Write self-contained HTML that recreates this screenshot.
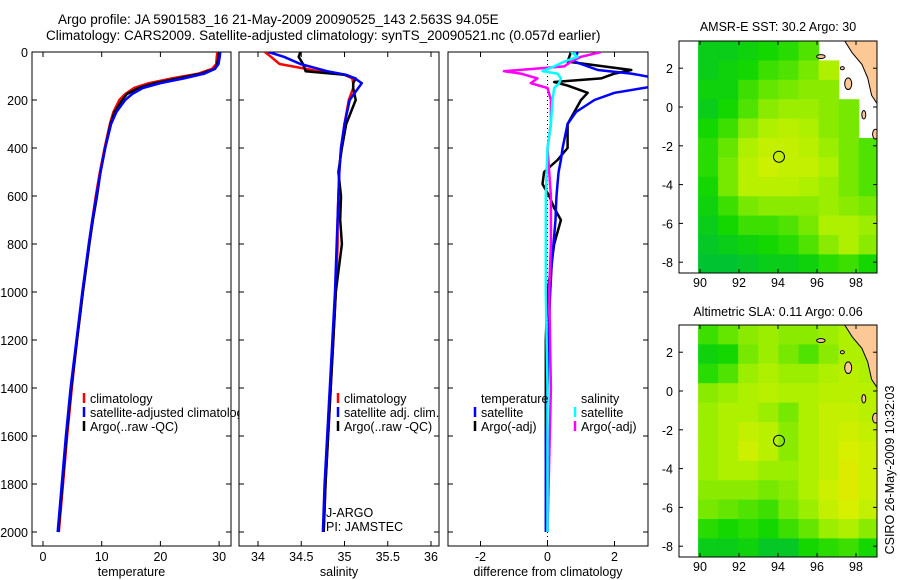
<!DOCTYPE html>
<html><head><meta charset="utf-8"><style>
html,body{margin:0;padding:0;background:#fff;width:900px;height:580px;overflow:hidden}
svg{display:block;font-family:"Liberation Sans",sans-serif;font-size:12.5px}
</style></head><body>
<svg id="fig" width="900" height="580" viewBox="0 0 900 580" xmlns="http://www.w3.org/2000/svg">
<text x="58" y="24" font-size="13.5">Argo profile: JA 5901583_16 21-May-2009 20090525_143 2.563S 94.05E</text>
<text x="46" y="40" font-size="13.5">Climatology: CARS2009. Satellite-adjusted climatology: synTS_20090521.nc (0.057d earlier)</text>
<text x="778" y="31" text-anchor="middle">AMSR-E SST: 30.2  Argo: 30</text>
<text x="778" y="316" text-anchor="middle">Altimetric SLA: 0.11  Argo: 0.06</text>
<text transform="translate(894,470) rotate(-90)" text-anchor="middle">CSIRO 26-May-2009 10:32:03</text>
<g id="plots"></g>
</svg>
<script>
// ---- data ----
const tDepth=[0,20,50,70,90,110,130,150,175,200,250,300,400,500,600,700,800,1000,1200,1400,1600,1800,2000];
const tClim=[29.7,29.6,29.5,28.8,26.5,22,18,15.5,14,13,12,11.4,10.5,9.7,9,8.4,7.8,6.8,5.8,4.9,4.1,3.4,2.7];
const tSat=[30.2,30.1,29.9,29.3,27.5,24,20,17,15.2,14,12.5,11.6,10.6,9.8,9.1,8.4,7.8,6.7,5.7,4.7,3.9,3.2,2.5];
const tArgo=[30,29.9,29.7,29.3,27,23,19,16.3,14.3,13.5,12.2,11.5,10.6,9.8,9.2,8.5,7.9,6.8,5.8,4.8,4.0,3.3,2.6];
const sDepth=[0,20,50,80,95,110,130,150,200,300,400,500,600,700,800,1000,1200,1400,1600,1800,2000];
const sClim=[34.08,34.15,34.25,34.7,35.0,35.09,35.1,35.1,35.05,35.0,34.96,34.94,34.93,34.92,34.92,34.9,34.87,34.84,34.81,34.78,34.76];
const sSat=[34.12,34.3,34.49,34.8,35.02,35.12,35.2,35.16,35.06,35.0,34.96,34.94,34.93,34.92,34.91,34.89,34.86,34.83,34.8,34.77,34.75];
const sArgo=[34.49,34.47,34.52,34.55,35.0,35.13,35.1,35.1,35.13,35.02,34.97,34.93,34.96,34.95,34.97,34.9,34.87,34.84,34.81,34.78,34.76];
const dtDepth=[0,40,75,90,110,125,140,170,200,250,300,400,450,500,550,600,650,700,800,900,1000,1200,1400,1600,2000];
const dtSat=[0.9,0.8,1.5,2.5,3.3,3.5,3.3,2.0,1.4,0.85,0.6,0.45,0.4,0.33,0.3,0.27,0.25,0.24,0.18,0.12,0.08,0.03,0.0,-0.05,-0.05];
const dtArgo=[0.7,0.6,2.5,2.0,1.6,0.2,0.6,1.2,1.0,0.8,0.6,0.6,0.3,-0.1,-0.15,0.05,0.2,0.4,0.2,0.1,0.0,-0.05,-0.05,-0.05,0.0];
const dsDepth=[0,20,40,60,80,90,110,130,150,200,300,400,600,800,1000,1400,2000];
const dsSat=[0.7,0.9,0.5,0.2,-0.15,0.3,0.4,0.35,0.2,0.15,0.1,0.0,-0.05,-0.05,-0.05,0.0,0.0];
const dsArgo=[1.6,1.0,0.7,0.5,-1.3,-0.8,-0.3,-0.5,0.0,0.1,0.1,0.0,0.1,0.1,0.05,0.1,0.0];
const depthTicks=[0,200,400,600,800,1000,1200,1400,1600,1800,2000];
const tTicks=[0,10,20,30];
const sTicks=[34,34.5,35,35.5,36];
const dTicks=[-2,0,2];
const lonTicks=[90,92,94,96,98];
const latTicks=[2,0,-2,-4,-6,-8];
const argoLon=94.05, argoLat=-2.563;
const sstGrid=[
[0.1,0.1,0.15,0.2,0.25,0.35,null,null,null],
[0.1,0.15,0.2,0.3,0.35,0.45,0.6,null,null],
[0.15,0.15,0.3,0.4,0.45,0.5,0.5,null,null],
[0.1,0.2,0.35,0.5,0.55,0.55,0.5,0.45,null],
[0.2,0.3,0.5,0.6,0.65,0.6,0.5,0.45,null],
[0.25,0.4,0.6,0.7,0.7,0.65,0.55,0.45,0.35],
[0.25,0.45,0.65,0.75,0.7,0.7,0.6,0.45,0.35],
[0.2,0.45,0.65,0.65,0.65,0.6,0.55,0.45,0.35],
[0.15,0.3,0.45,0.5,0.5,0.5,0.55,0.5,0.45],
[0.1,0.2,0.3,0.3,0.35,0.45,0.6,0.6,0.55],
[0.05,0.1,0.15,0.2,0.25,0.35,0.5,0.6,0.5],
[0.0,0.0,0.05,0.1,0.1,0.15,0.25,0.3,0.2]];
const slaGrid=[
[0.3,0.4,0.5,0.55,0.5,0.5,0.55,0.6,0.6],
[0.15,0.2,0.45,0.55,0.45,0.35,0.5,0.6,0.6],
[0.25,0.35,0.55,0.6,0.55,0.55,0.6,0.65,0.6],
[0.5,0.55,0.6,0.65,0.6,0.6,0.65,0.65,0.65],
[0.55,0.6,0.6,0.55,0.45,0.6,0.7,0.7,0.65],
[0.55,0.6,0.7,0.65,0.5,0.6,0.7,0.75,0.7],
[0.55,0.6,0.75,0.65,0.5,0.6,0.7,0.8,0.75],
[0.55,0.6,0.6,0.55,0.55,0.6,0.7,0.85,0.75],
[0.5,0.5,0.5,0.45,0.5,0.6,0.75,0.85,0.75],
[0.45,0.4,0.35,0.3,0.45,0.55,0.7,0.8,0.7],
[0.25,0.2,0.25,0.2,0.3,0.4,0.55,0.6,0.5],
[0.1,0.1,0.15,0.05,0.05,0.2,0.25,0.3,0.2]];

// ---- drawing ----
const NS="http://www.w3.org/2000/svg";
const root=document.getElementById('plots');
function mk(tag,attrs,parent){const e=document.createElementNS(NS,tag);for(const k in attrs)e.setAttribute(k,attrs[k]);(parent||root).appendChild(e);return e;}
const Y0=52, YB=546, yS=0.24;
const yD=d=>Y0+d*yS;

function panel(id,x0,x1,xf,xticks,label,showY){
  const g=mk('g',{});
  
  
  const cp=mk('clipPath',{id:'clip-'+id},g);
  mk('rect',{x:x0,y:Y0,width:x1-x0,height:YB-Y0},cp);
  const fr=mk('rect',{x:x0,y:Y0,width:x1-x0,height:YB-Y0,fill:'#fff',stroke:'#000','stroke-width':1},g);
  
  
  depthTicks.forEach(d=>{
    mk('line',{x1:x0,x2:x0+5,y1:yD(d),y2:yD(d),stroke:'#000'},g);
    mk('line',{x1:x1,x2:x1-5,y1:yD(d),y2:yD(d),stroke:'#000'},g);
    if(showY){const t=mk('text',{x:x0-4,y:yD(d)+5,'text-anchor':'end'},g);t.textContent=d;
      
      }
  });
  xticks.forEach(v=>{
    const x=xf(v);
    mk('line',{x1:x,x2:x,y1:YB,y2:YB-5,stroke:'#000'},g);
    mk('line',{x1:x,x2:x,y1:Y0,y2:Y0+5,stroke:'#000'},g);
    const t=mk('text',{x:x,y:561,'text-anchor':'middle'},g);t.textContent=v;
    
    
  });
  const lt=mk('text',{x:(x0+x1)/2,y:576,'text-anchor':'middle'},g);lt.textContent=label;
  
  
  const lines=mk('g',{'clip-path':'url(#clip-'+id+')'},g);
  return lines;
}
function series(g,name,depths,vals,xf,color,w){
  const pts=depths.map((d,i)=>xf(vals[i]).toFixed(1)+','+yD(d).toFixed(1)).join(' ');
  const p=mk('polyline',{points:pts,fill:'none',stroke:color,'stroke-width':w||2.5,'stroke-linejoin':'round'},g);
  
  
}
function legend(x,y,items,parentName){
  const g=mk('g',{});
  
  
  items.forEach((it,i)=>{
    const yy=y+i*14;
    if(it[1])mk('line',{x1:x,x2:x,y1:yy-10,y2:yy,stroke:it[1],'stroke-width':2.5},g);
    const t=mk('text',{x:x+6,y:yy},g);t.textContent=it[0];
    
    
  });
}

// temperature
const xT=v=>43+5.87*v;
const gT=panel('temperature',32,231,xT,tTicks,'temperature',true);
series(gT,'temp-climatology-line',tDepth,tClim,xT,'#f00');
series(gT,'temp-argo-line',tDepth,tArgo,xT,'#000');
series(gT,'temp-satellite-line',tDepth,tSat,xT,'#00f');
legend(84,403,[['climatology','#f00'],['satellite-adjusted climatology','#00f'],['Argo(..raw -QC)','#000']],'temperature-legend');

// salinity
const xS=v=>258+86.5*(v-34);
const gS=panel('salinity',239,439,xS,sTicks,'salinity',false);
series(gS,'sal-climatology-line',sDepth,sClim,xS,'#f00');
series(gS,'sal-argo-line',sDepth,sArgo,xS,'#000');
series(gS,'sal-satellite-line',sDepth,sSat,xS,'#00f');
legend(338,403,[['climatology','#f00'],['satellite adj. clim.','#00f'],['Argo(..raw -QC)','#000']],'salinity-legend');
legend(320,517,[['J-ARGO',null],['PI: JAMSTEC',null]],'float-info');

// difference
const xDf=v=>547.5+33.5*v;
const gD=panel('difference',448,648,xDf,dTicks,'difference from climatology',false);
mk('line',{x1:xDf(0),x2:xDf(0),y1:Y0,y2:YB,stroke:'#000','stroke-dasharray':'1,3'},gD);
series(gD,'diff-temp-argo-line',dtDepth,dtArgo,xDf,'#000');
series(gD,'diff-temp-satellite-line',dtDepth,dtSat,xDf,'#00f');
series(gD,'diff-sal-argo-line',dsDepth,dsArgo,xDf,'#f0f');
series(gD,'diff-sal-satellite-line',dsDepth,dsSat,xDf,'#0ff');
legend(475,403,[['temperature',null],['satellite','#00f'],['Argo(-adj)','#000']],'diff-temp-legend');
legend(575,403,[['salinity',null],['satellite','#0ff'],['Argo(-adj)','#f0f']],'diff-sal-legend');

// maps
function cmap(t){
  const stops=[[0,[0,195,50]],[0.2,[20,215,0]],[0.4,[100,230,0]],[0.6,[175,240,0]],[0.8,[215,240,0]],[1,[240,220,0]]];
  for(let i=1;i<stops.length;i++){if(t<=stops[i][0]){const a=stops[i-1],b=stops[i],f=(t-a[0])/(b[0]-a[0]);
    return 'rgb('+a[1].map((c,k)=>Math.round(c+f*(b[1][k]-c))).join(',')+')';}}
  return 'rgb(240,220,0)';
}
function map(id,top,grid){
  const L=679,R=877,B=top+232;
  const lx=lon=>700+19.5*(lon-90);
  const ly=lat=>top+66-19.4*lat;
  const g=mk('g',{});
  
  
  const cp=mk('clipPath',{id:'clip-'+id},g);
  mk('rect',{x:L,y:top,width:R-L,height:B-top},cp);
  mk('rect',{x:L,y:top,width:R-L,height:B-top,fill:'#fff'},g);
  const cg=mk('g',{'clip-path':'url(#clip-'+id+')'},g);
  grid.forEach((row,j)=>row.forEach((v,i)=>{
    if(v===null)return;
    const lon=89.9+i*1.03, lat=3.4-j;
    const c=mk('rect',{x:lx(lon).toFixed(1),y:ly(lat).toFixed(1),width:(19.5*1.03+0.6).toFixed(1),height:19.9,fill:cmap(v)},cg);
    
    
  }));
  const land=[[97.3,3.6],[97.8,2.8],[98.3,2.2],[98.6,1.5],[98.8,0.6],[99.2,0.0],[99.3,3.6]];
  const lp=mk('polygon',{points:land.map(p=>lx(p[0])+','+ly(p[1])).join(' '),fill:'#fcc896',stroke:'#000','stroke-width':1},cg);
  
  
  [[96.2,2.6,0.22,0.1],[97.6,1.2,0.18,0.3],[97.3,2.0,0.1,0.08],[98.4,-0.4,0.1,0.22],[99.0,-1.4,0.15,0.25]].forEach(s=>{
    const e=mk('ellipse',{cx:lx(s[0]),cy:ly(s[1]),rx:19.5*s[2],ry:19.4*s[3],fill:'#fcc896',stroke:'#000','stroke-width':1},cg);
    
    
  });
  mk('rect',{x:L,y:top,width:R-L,height:B-top,fill:'none',stroke:'#000'},g);
  lonTicks.forEach(v=>{const x=lx(v);
    mk('line',{x1:x,x2:x,y1:B,y2:B-4,stroke:'#000'},g);
    mk('line',{x1:x,x2:x,y1:top,y2:top+4,stroke:'#000'},g);
    const t=mk('text',{x:x,y:B+14,'text-anchor':'middle'},g);t.textContent=v;
    
    });
  latTicks.forEach(v=>{const y=ly(v);
    mk('line',{x1:R,x2:R-4,y1:y,y2:y,stroke:'#000'},g);
    mk('line',{x1:L,x2:L+4,y1:y,y2:y,stroke:'#000'},g);
    const t=mk('text',{x:L-6,y:y+5,'text-anchor':'end'},g);t.textContent=v;
    
    });
  const c=mk('circle',{cx:lx(argoLon),cy:ly(argoLat),r:5.5,fill:'none',stroke:'#000','stroke-width':1},g);
  
  
}
map('sst-map',41,sstGrid);
map('sla-map',325,slaGrid);
</script>
</body></html>
